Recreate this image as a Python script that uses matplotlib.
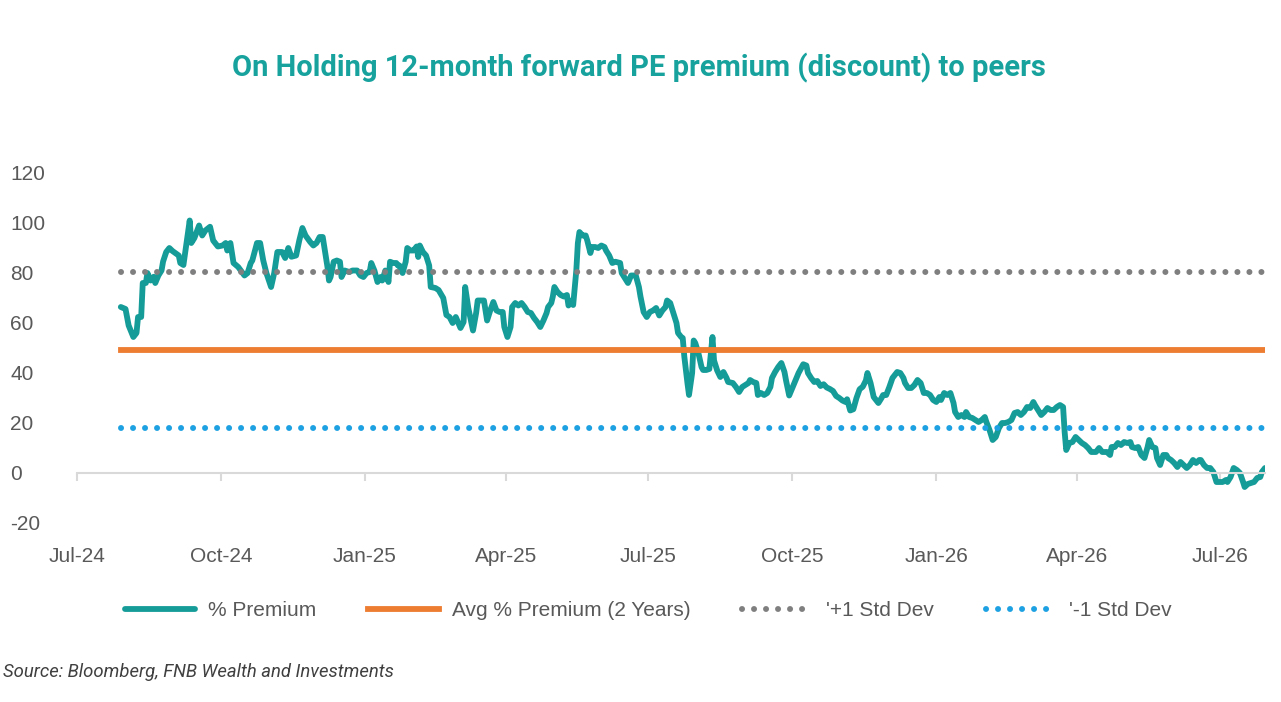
import pandas as pd
import matplotlib
matplotlib.use("Agg")
import matplotlib.pyplot as plt
import matplotlib.dates as mdates

# observation dates as days since 1 Jul 2024, and the premium (%) on each day
start = pd.Timestamp("2024-07-01")
days = [
    28, 31, 33, 36, 38, 39, 41, 42, 44, 45,
    47, 49, 50, 52, 54, 55, 57, 59, 61, 65,
    66, 68, 70, 72, 73, 75, 78, 80, 82, 85,
    87, 90, 93, 95, 96, 98, 100, 103, 107, 109,
    111, 112, 115, 117, 119, 121, 124, 126, 128, 131,
    133, 135, 137, 140, 142, 144, 146, 149, 151, 153,
    155, 157, 158, 160, 161, 162, 164, 166, 168, 169,
    171, 174, 176, 179, 181, 183, 185, 187, 188, 190,
    192, 194, 195, 197, 199, 200, 202, 204, 205, 206,
    208, 210, 211, 213, 215, 217, 218, 219, 221, 223,
    225, 226, 229, 231, 234, 236, 238, 240, 242, 245,
    247, 248, 250, 253, 255, 256, 260, 262, 264, 266,
    268, 270, 272, 273, 275, 277, 278, 280, 282, 284,
    286, 288, 290, 292, 294, 296, 298, 300, 301, 303,
    304, 305, 307, 309, 311, 313, 314, 316, 317, 319,
    320, 321, 323, 325, 326, 328, 329, 331, 333, 335,
    337, 338, 340, 342, 344, 347, 348, 350, 352, 354,
    357, 359, 360, 362, 364, 366, 368, 370, 372, 374,
    376, 377, 379, 381, 383, 384, 386, 387, 388, 390,
    391, 393, 394, 395, 397, 399, 400, 402, 404, 406,
    407, 409, 411, 413, 415, 416, 419, 421, 423, 425,
    427, 429, 430, 432, 434, 435, 437, 439, 441, 443,
    444, 446, 448, 450, 452, 453, 455, 457, 459, 461,
    464, 466, 467, 469, 471, 473, 475, 477, 479, 481,
    483, 485, 487, 489, 491, 492, 494, 496, 498, 500,
    502, 504, 505, 507, 509, 512, 514, 515, 517, 519,
    521, 524, 526, 528, 529, 531, 533, 535, 537, 539,
    541, 543, 545, 547, 549, 551, 552, 554, 556, 558,
    560, 561, 563, 565, 567, 568, 570, 572, 574, 576,
    578, 580, 581, 583, 585, 587, 589, 591, 593, 595,
    597, 599, 601, 603, 605, 607, 609, 611, 612, 614,
    616, 618, 620, 622, 624, 626, 628, 630, 631, 632,
    634, 636, 638, 640, 642, 644, 646, 648, 650, 651,
    653, 655, 658, 660, 661, 663, 665, 667, 669, 671,
    673, 674, 676, 678, 680, 682, 684, 685, 687, 689,
    690, 692, 694, 696, 697, 699, 701, 703, 705, 707,
    709, 711, 713, 715, 717, 718, 720, 722, 724, 726,
    728, 730, 732, 734, 735, 737, 739, 741, 743, 745,
    746, 748, 750, 752, 754, 756, 757, 759,
]
premium = [
    66.4, 65.6, 59, 54.4, 56, 62.4, 62.4, 76, 76, 80,
    77, 78.5, 76, 79, 81, 84.6, 88.4, 90, 88.8, 87,
    84, 83.2, 92, 101, 92, 94, 99, 95, 97, 98.5,
    93, 90.6, 91, 92, 89, 92, 84, 82.4, 79, 80,
    84, 85, 92, 92, 85, 80, 74.4, 80, 88.4, 88.4,
    86, 90, 86.5, 87, 93, 98, 95, 92.4, 91, 92,
    94.4, 94.4, 90.4, 82.5, 77, 78.4, 84.5, 85, 84.5, 78.4,
    81, 80.4, 81, 81, 79, 78.4, 80, 80.4, 84, 81,
    76.4, 78.4, 77, 81, 76.4, 84.5, 84, 84, 83, 83,
    80, 84.5, 90, 89, 89, 90.6, 86.4, 91, 88.4, 87,
    83, 74.4, 74, 73.2, 70, 63.2, 62.4, 60, 62.4, 58,
    60.4, 74.4, 66, 57, 64, 69, 69, 61, 65, 68.4,
    65, 64.4, 64.4, 58.4, 54.4, 58.4, 66.4, 68, 67, 68,
    66.4, 64.4, 64, 62, 60.4, 58.4, 61, 64, 66.4, 68,
    70.6, 74.4, 72.4, 71.2, 70.6, 71.2, 67, 69, 67.2, 81,
    92, 96.4, 95, 95, 93, 88, 90.4, 90.4, 90, 91,
    90.4, 89, 87, 84, 84.5, 84, 80, 78, 76, 79,
    79, 74.4, 70.6, 64.4, 62.4, 64.4, 65, 66, 63, 65,
    66.4, 69, 68, 64, 60, 56, 54.4, 54, 46.6, 36,
    31.2, 40, 53, 52, 48, 42.4, 41.2, 41.2, 41.6, 54.4,
    45, 41, 38.4, 40.4, 38, 36.4, 36, 34.4, 32.4, 34.4,
    35.2, 36, 37.2, 36.4, 36, 31.2, 32, 31.2, 32, 34.4,
    38, 40.4, 42.4, 44, 40.4, 37, 31, 34, 37, 40,
    43.5, 43, 40, 38, 36.4, 36.8, 34.8, 35.5, 34.2, 33.6,
    32.8, 30.8, 30, 29, 28.4, 29.5, 25, 25.5, 30, 33.5,
    34.5, 37, 40, 36, 30.4, 28, 30, 31.2, 31.2, 34.4,
    38, 40.4, 40, 38, 36, 34, 34, 35.2, 37.2, 36,
    32, 32, 31.2, 29.2, 28.4, 30.4, 29.2, 32, 31.2, 32,
    28, 24.4, 22.4, 23.2, 22.4, 24.4, 22.4, 22, 21.2, 20.4,
    21.2, 22.4, 20.4, 17.2, 13.2, 14.4, 18, 20, 20, 20.4,
    21.2, 24, 24.4, 23.2, 24.4, 26.4, 26, 28.4, 27.2, 25.2,
    23.2, 24.4, 26, 25.2, 25.2, 26.4, 27.2, 26.4, 16.4, 9.2,
    12, 12.4, 14.4, 13.2, 12, 11.2, 10, 8.4, 8.4, 8.4,
    10, 8.4, 8.4, 7.2, 10.4, 10.4, 12, 11.2, 12.4, 12,
    12.4, 10.4, 10, 10.4, 7.2, 6, 10.4, 13.2, 10.4, 10,
    6, 3.2, 7.2, 7.2, 6, 5.2, 4, 2.4, 4.4, 3.2,
    2, 3.2, 5.2, 4, 5.2, 5.2, 3.2, 2, 2, 0.4,
    -3.6, -3.6, -3.6, -2.8, -3.6, -1.6, 2, 1.2, 0, -3.6,
    -5.6, -4.4, -4, -3.6, -2, -1.6, 0.4, 2,
]
avg_premium = 49.4
plus_1sd = 80.6
minus_1sd = 18.2

dates = start + pd.to_timedelta(days, unit="D")
span = [dates[0], dates[-1]]

plt.rcParams['font.family'] = ['Liberation Sans', 'DejaVu Sans']
plt.rcParams['axes.unicode_minus'] = False
text_col = '#595959'

fig = plt.figure(figsize=(12.81, 7.02), dpi=100)
ax = fig.add_axes([77 / 1281, 179 / 702, 1188 / 1281, 350 / 702])

ax.plot(dates, premium, color='#169C98', lw=4.2, solid_joinstyle='round',
        solid_capstyle='round', label='% Premium')
ax.plot(span, [avg_premium] * 2, color='#ED7D31', lw=4.2,
        label='Avg % Premium (2 Years)')
ax.plot(span, [plus_1sd] * 2, color='#7F7F7F', lw=4.3,
        linestyle=(0, (0.01, 2.0)), dash_capstyle='round', label="'+1 Std Dev")
ax.plot(span, [minus_1sd] * 2, color='#1DA1E2', lw=4.3,
        linestyle=(0, (0.01, 2.0)), dash_capstyle='round', label="'-1 Std Dev")

ax.set_ylim(-20, 120)
ax.set_yticks(range(-20, 121, 20))
ax.set_xlim(start, start + pd.Timedelta(days=759))
ax.xaxis.set_major_locator(mdates.MonthLocator(bymonth=[1, 4, 7, 10]))
ax.xaxis.set_major_formatter(mdates.DateFormatter('%b-%y'))

for s in ['top', 'right', 'left']:
    ax.spines[s].set_visible(False)
ax.spines['bottom'].set_position(('data', 0))
ax.spines['bottom'].set_color('#D9D9D9')
ax.spines['bottom'].set_linewidth(1.5)

ax.tick_params(axis='x', colors='#D9D9D9', length=6, width=1.5, pad=47,
               labelsize=15, labelcolor=text_col)
ax.tick_params(axis='y', length=0, pad=48, labelsize=15, labelcolor=text_col)
for lab in ax.get_yticklabels():
    lab.set_horizontalalignment('left')

fig.text(0.499, 1 - 68 / 702, 'On Holding 12-month forward PE premium (discount) to peers',
         ha='center', va='center', color='#17A29E', fontsize=21,
         fontweight='bold', family='Roboto')

fig.legend(loc='center', bbox_to_anchor=(648 / 1281, 1 - 611 / 702), ncol=4,
           frameon=False, fontsize=15, handlelength=3.4, handletextpad=0.6,
           columnspacing=2.5, labelcolor=text_col)

fig.text(3 / 1281, 1 - 672 / 702, 'Source: Bloomberg, FNB Wealth and Investments',
         ha='left', va='center', style='italic', fontsize=13.3, color='#404040',
         family='Roboto')

fig.savefig('out.png', dpi=100)
